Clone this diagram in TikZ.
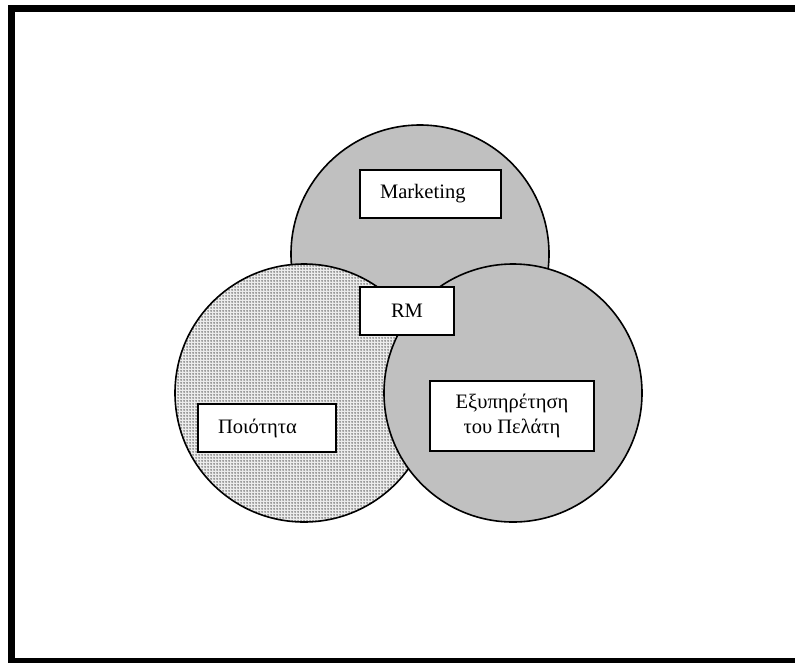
\documentclass[tikz,border=0pt]{standalone}
\usepackage{fontspec}
\setmainfont{Liberation Serif}
\usepackage{xcolor}
\usetikzlibrary{patterns.meta}
\definecolor{vennGray}{HTML}{C0C0C0}
\tikzdeclarepattern{
  name=finedots,
  type=uncolored,
  bounding box={(0pt,0pt) and (2.25pt,2.25pt)},
  tile size={(2.25pt,2.25pt)},
  code={\pgfpathcircle{\pgfpoint{1.1pt}{1.1pt}}{0.75pt}\pgfusepath{fill}}
}
\tikzset{
  venn/.style={circle,draw,line width=1.2pt,minimum size=193.5pt,inner sep=0pt,outer sep=0pt},
  box/.style={draw,fill=white,line width=1.1pt,align=center,inner sep=0pt,minimum height=36pt,
    font=\fontsize{15.4}{18.75}\selectfont},
  boxl/.style={box,align=left,inner xsep=15pt}
}

\begin{document}
\begin{tikzpicture}[x=0.75pt,y=-0.75pt]
\useasboundingbox (0,0) rectangle (795,662);
\draw[line width=5.25pt] (11,8.5) rectangle (800,661.5);

% circles
\node[venn, fill=vennGray] (mkt) at (420,254) {};
\node[venn, preaction={fill=gray!15}, pattern=finedots, pattern color=black!70] (qual) at (304,393) {};
\node[venn, fill=vennGray] (serv) at (513,393) {};

% labels
\node[boxl, text width=75.75pt] (mktlbl) at (430.5,194) {Marketing};
\node[box, minimum width=70.5pt] (rm) at (407,311) {RM};
\node[boxl, text width=73.5pt] (quallbl) at (267,428) {Ποιότητα};
\node[box, minimum width=123pt, minimum height=52.5pt] (servlbl) at (512,416) {Εξυπηρέτηση\\του Πελάτη};
\end{tikzpicture}
\end{document}
